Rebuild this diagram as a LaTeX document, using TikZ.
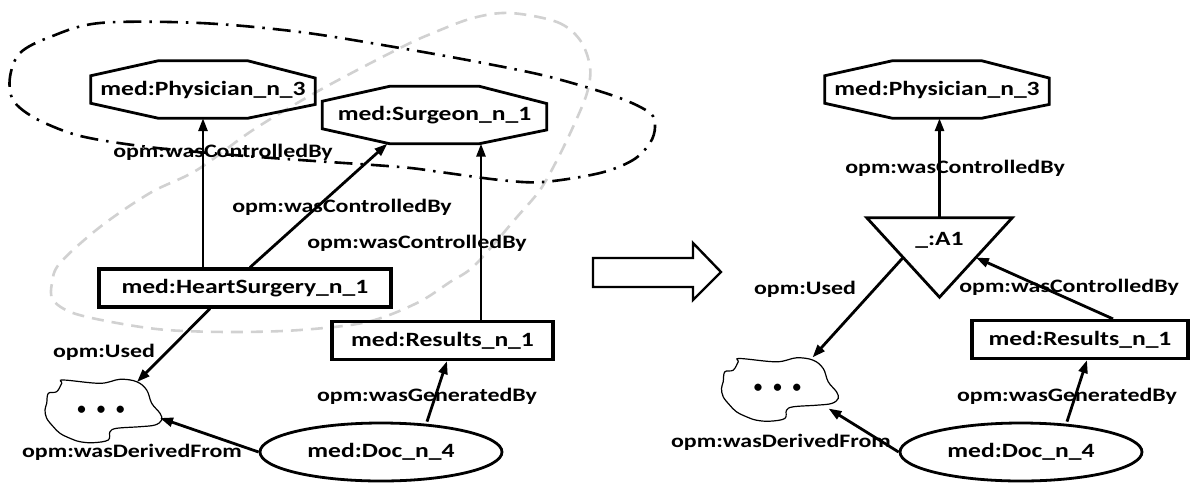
\documentclass[tikz,border=0pt]{standalone}
\usepackage{fontspec}
\usetikzlibrary{arrows.meta,calc,shapes.geometric}
\newfontfamily\dgfont[FakeStretch=1.26]{Carlito}
\newfontfamily\dotfont{Carlito}
\newcommand\drawocto[1]{%
  \draw[octoline] ($(#1.north west)!0.3!(#1.north east)$) -- ($(#1.north west)!0.7!(#1.north east)$)
    -- ($(#1.north east)!0.3!(#1.south east)$) -- ($(#1.north east)!0.76!(#1.south east)$)
    -- ($(#1.south west)!0.7!(#1.south east)$) -- ($(#1.south west)!0.3!(#1.south east)$)
    -- ($(#1.north west)!0.74!(#1.south west)$) -- ($(#1.north west)!0.26!(#1.south west)$) -- cycle;}
\newcommand\drawcloud[1]{%
  \begin{scope}[shift={(#1.center)}]
  \draw[cloudline] plot[smooth cycle, tension=0.6] coordinates {(-37.7,-30) (-1,-26.7) (19,-30.7) (35.7,-28.3) (45.7,-20) (50.7,-6.7) (59,3.3) (60.7,10) (54,15) (39,16.7) (15.7,18.3) (9,21.7) (7.3,30) (-7.7,32.7) (-21,31.7) (-31,28.3) (-41,23.3) (-47.7,16.7) (-54.3,8.3) (-56,0) (-54.3,-6.7) (-52.7,-16.7) (-44.3,-18.3) (-39.3,-26.7)};
  \end{scope}}
\begin{document}
\begin{tikzpicture}[x=1pt,y=-1pt,
  nodetxt/.style={font=\dgfont\fontsize{20.3}{22}\selectfont\bfseries, text=black},
  lbl/.style={font=\dgfont\fontsize{19}{21}\selectfont\bfseries, inner sep=0pt},
  octobox/.style={nodetxt, draw=none, inner sep=0pt, minimum width=224pt, minimum height=57pt},
  octoline/.style={line width=2.8pt, line join=miter},
  rectbox/.style={nodetxt, draw, line width=3.2pt, inner sep=0pt, minimum height=38pt},
  docbox/.style={nodetxt, ellipse, draw, line width=2.8pt, inner sep=0pt, minimum width=242pt, minimum height=58pt},
  tribox/.style={draw=none, inner sep=0pt, minimum width=145pt, minimum height=79pt},
  triline/.style={line width=2.8pt, line join=miter},
  cloudbox/.style={draw=none, inner sep=0pt, minimum width=116pt, minimum height=62pt, font=\dotfont\fontsize{17}{20}\selectfont\bfseries},
  cloudline/.style={line width=1.2pt},
  arr/.style={line width=2.8pt, -{Triangle[length=13pt,width=9pt]}},
  dashdotring/.style={line width=2.6pt, dash pattern=on 18pt off 8pt on 2.5pt off 8pt},
  grayring/.style={line width=2.6pt, black!18, dash pattern=on 12pt off 8pt},
  bigarrow/.style={line width=2.4pt, line join=miter}
]
\useasboundingbox (0,0) rectangle (1190,483);

% group outlines
\draw[grayring] plot[smooth cycle, tension=0.55] coordinates {(510,13) (557,22) (580,40) (590,67) (587,93) (573,127) (557,160) (540,190) (517,217) (475,265) (450,282) (417,303) (367,322) (300,330) (233,332) (167,330) (117,323) (73,313) (53,300) (52,283) (60,263) (100,227) (150,193) (197,170) (253,130) (320,90) (400,48) (433,33) (473,18)};
\draw[dashdotring] plot[smooth cycle, tension=0.55] coordinates {(100,23) (200,23) (300,32) (400,48) (483,63) (550,77) (617,97) (650,113) (655,127) (650,143) (633,160) (600,173) (543,182) (500,180) (440,172) (400,167) (300,160) (233,155) (157,148) (100,140) (67,132) (33,117) (13,100) (10,77) (20,53) (50,37)};

% ---------- left graph ----------
\node[octobox] (ph1) at (203,89.5) {med:Physician\_n\_3};
\drawocto{ph1}
\node[octobox] (sg) at (434.5,115) {med:Surgeon\_n\_1};
\drawocto{sg}
\node[rectbox, minimum width=292pt] (hs) at (245,288) {med:HeartSurgery\_n\_1};
\node[rectbox, minimum width=221pt] (rs1) at (442.5,340.5) {med:Results\_n\_1};
\node[docbox] (doc1) at (381,452) {med:Doc\_n\_4};
\node[cloudbox] (c1) at (101,410) {•\hspace{11pt}•\hspace{11pt}•};
\drawcloud{c1}

\draw[arr] (hs.north -| ph1.south) -- (ph1.south);
\draw[arr] ($(hs.north)+(5,0)$) -- ($(sg.south west)!0.29!(sg.south east)$);
\draw[arr] ($(rs1.north)+(38.5,0)$) -- ($(sg.south)+(46.5,0)$);
\draw[arr] ($(hs.south)+(-35,0)$) -- ($(c1.center)+(36,-28)$);
\draw[arr] (doc1.west) -- ($(c1.center)+(59,8)$);
\draw[arr] ($(doc1.north)+(46,0)$) -- ($(rs1.south)+(4.5,0)$);

\node[lbl] (l1) at (223,152) {opm:wasControlledBy};
\node[lbl] (l2) at (342,207) {opm:wasControlledBy};
\node[lbl] (l3) at (417,243) {opm:wasControlledBy};
\node[lbl] (l4) at (104,352) {opm:Used};
\node[lbl] (l5) at (132,452) {opm:wasDerivedFrom};
\node[lbl] (l6) at (427,396) {opm:wasGeneratedBy};

% ---------- transformation arrow ----------
\draw[bigarrow] (593,258) -- (693,258) -- (693,243) -- (721,272) -- (693,300) -- (693,287) -- (593,287) -- cycle;

% ---------- right graph ----------
\node[octobox] (ph2) at (937,89.5) {med:Physician\_n\_3};
\drawocto{ph2}
\node[tribox] (a1) at (939.5,257.5) {};
\draw[triline] (a1.north west) -- (a1.north east) -- (a1.south) -- cycle;
\node[nodetxt, inner sep=0pt] (a1t) at ($(a1.center)+(0,-17)$) {\_:A1};
\node[rectbox, minimum width=216pt] (rs2) at (1080,339.5) {med:Results\_n\_1};
\node[docbox] (doc2) at (1021,452) {med:Doc\_n\_4};
\node[cloudbox] (c2) at (777.5,388.5) {•\hspace{11pt}•\hspace{11pt}•};
\drawcloud{c2}

\draw[arr] (a1.north) -- (a1.north |- ph2.south);
\draw[arr] ($(a1.north west)!0.5!(a1.south)$) -- ($(c2.center)+(35,-31)$);
\draw[arr] ($(rs2.north)+(33,0)$) -- ($(a1.north east)!0.5!(a1.south)$);
\draw[arr] (doc2.west) -- ($(c2.center)+(51,20)$);
\draw[arr] ($(doc2.north)+(46,0)$) -- ($(rs2.south)+(7,0)$);

\node[lbl] (r1) at (955,168) {opm:wasControlledBy};
\node[lbl] (r2) at (805,289) {opm:Used};
\node[lbl] (r3) at (1069,287) {opm:wasControlledBy};
\node[lbl] (r4) at (781,442) {opm:wasDerivedFrom};
\node[lbl] (r5) at (1067,396) {opm:wasGeneratedBy};
\end{tikzpicture}
\end{document}
